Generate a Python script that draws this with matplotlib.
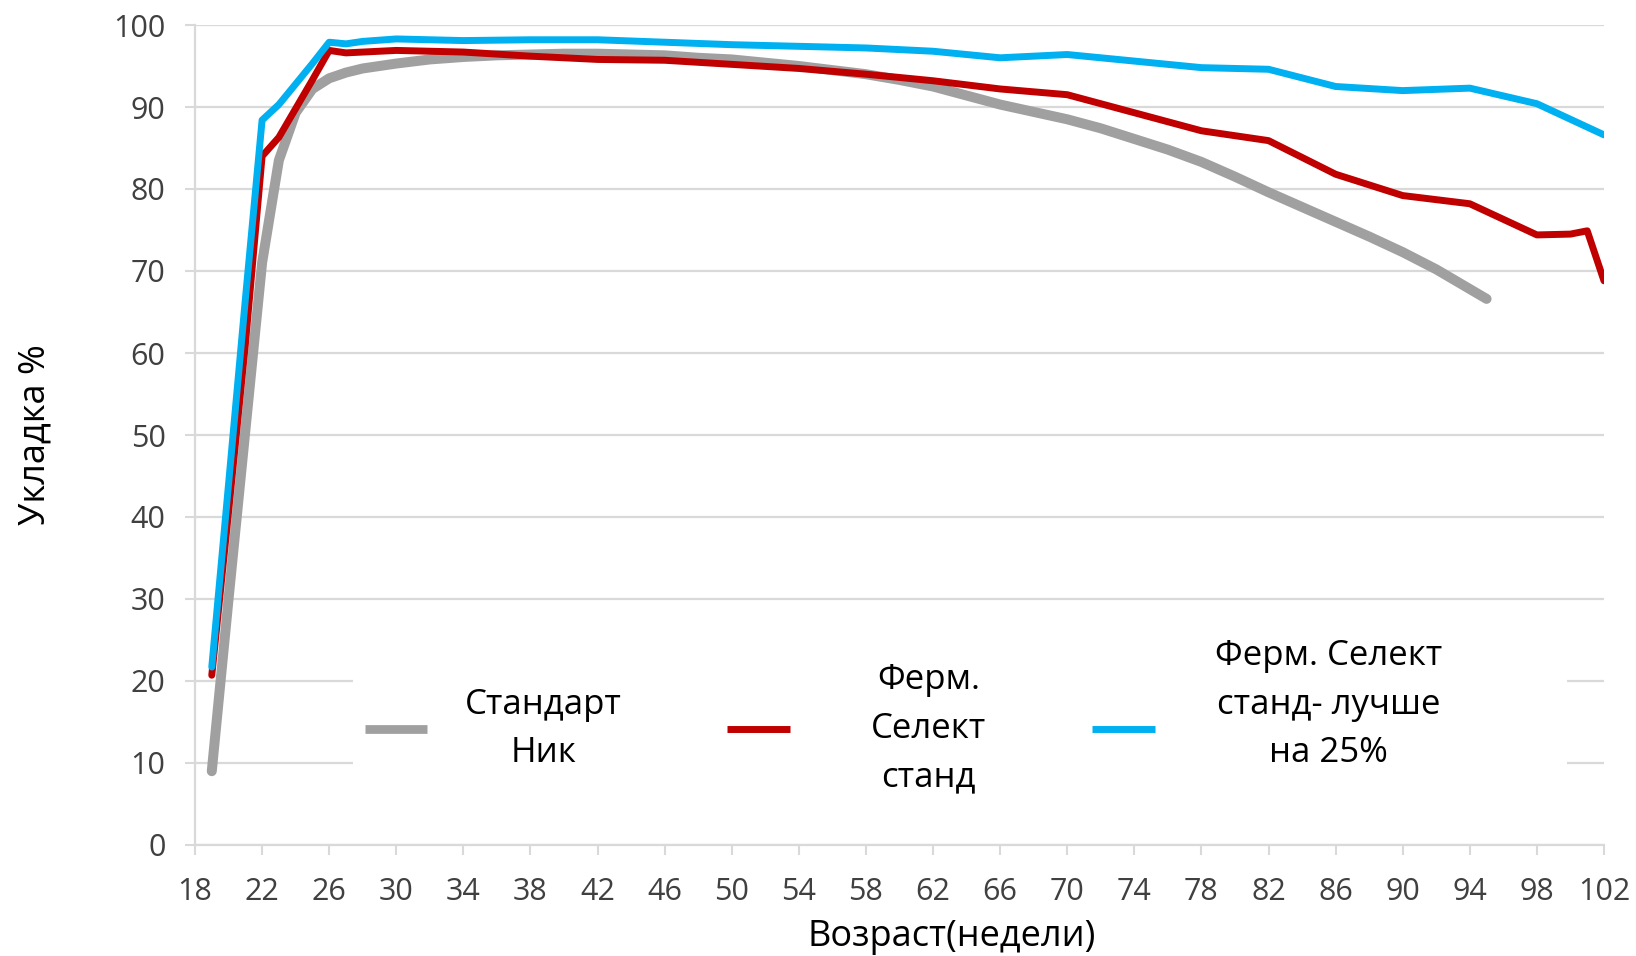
import matplotlib
matplotlib.use("Agg")
import matplotlib.pyplot as plt
from matplotlib.lines import Line2D
from matplotlib.offsetbox import DrawingArea

# ---- data ----
weeks_std = [19, 20, 21, 22, 23, 24, 25, 26, 27, 28, 30, 32, 34, 36, 38, 40, 42, 44, 46, 48,
             50, 52, 54, 56, 58, 60, 62, 64, 66, 68, 70, 72, 74, 76, 78, 80, 82, 84, 86, 88,
             90, 92, 94, 95]
vals_std = [9.0, 30, 50.5, 71, 83.5, 89.3, 92.2, 93.5, 94.2, 94.7, 95.3, 95.8, 96.1, 96.3, 96.4,
            96.5, 96.5, 96.4, 96.3, 96.0, 95.8, 95.4, 95.0, 94.5, 94.0, 93.3, 92.5, 91.4, 90.3,
            89.4, 88.5, 87.4, 86.1, 84.8, 83.3, 81.5, 79.6, 77.8, 76.0, 74.2, 72.3, 70.2, 67.8,
            66.6]

weeks_farm = [19, 20, 21, 22, 23, 24, 25, 26, 27, 28, 30, 34, 38, 42, 46, 50, 54, 58, 62, 66,
              70, 74, 78, 82, 86, 90, 94, 96, 98, 100, 101, 102]
vals_farm = [20.7, 40.6, 61, 84, 86.3, 89.8, 93.3, 96.9, 96.6, 96.7, 96.9, 96.7, 96.2, 95.8,
             95.7, 95.2, 94.7, 94.0, 93.2, 92.2, 91.5, 89.3, 87.1, 85.9, 81.8, 79.2, 78.2, 76.3,
             74.4, 74.5, 74.9, 68.8]

weeks_best = [19, 20, 21, 22, 23, 24, 25, 26, 27, 28, 30, 34, 38, 42, 46, 50, 54, 58, 62, 66,
              70, 74, 78, 82, 86, 90, 94, 98, 102]
vals_best = [21.7, 44, 66.5, 88.4, 90.3, 92.8, 95.3, 97.9, 97.7, 98.0, 98.3, 98.1, 98.2, 98.2,
             97.9, 97.6, 97.4, 97.2, 96.8, 96.0, 96.4, 95.6, 94.8, 94.6, 92.5, 92.0, 92.3, 90.4,
             86.6]

series_labels = ["Стандарт\nНик", "Ферм.\nСелект\nстанд", "Ферм. Селект\nстанд- лучше\nна 25%\n"]
x_ticks = list(range(18, 103, 4))
y_ticks = list(range(0, 101, 10))
x_title = "Возраст(недели)"
y_title = "Укладка %"

C_GRAY = "#A0A0A0"
C_RED = "#C00000"
C_BLUE = "#00B0F0"
C_GRID = "#D9D9D9"

plt.rcParams['font.family'] = ['Open Sans', 'DejaVu Sans']

fig = plt.figure(figsize=(16.36, 9.56), dpi=100)
ax = fig.add_axes([195 / 1636, 1 - 845 / 956, (1604 - 195) / 1636, (845 - 25) / 956])

ax.plot(weeks_std, vals_std, color=C_GRAY, lw=7.2, solid_capstyle='round',
        solid_joinstyle='round', zorder=3)
ax.plot(weeks_farm, vals_farm, color=C_RED, lw=5.0, solid_capstyle='round',
        solid_joinstyle='round', zorder=4)
ax.plot(weeks_best, vals_best, color=C_BLUE, lw=5.0, solid_capstyle='round',
        solid_joinstyle='round', zorder=5)

ax.set_xlim(18, 102)
ax.set_ylim(0, 100)
ax.set_xticks(x_ticks)
ax.set_yticks(y_ticks)
ax.tick_params(axis='both', labelsize=22, labelcolor='#404040', color=C_GRID,
               length=7.2, width=1.5, direction='out')
ax.tick_params(axis='x', pad=16)
ax.tick_params(axis='y', pad=14)

ax.set_axisbelow(True)
ax.yaxis.grid(True, color=C_GRID, lw=1.6)
for s in ['top', 'right']:
    ax.spines[s].set_visible(False)
for s in ['left', 'bottom']:
    ax.spines[s].set_color(C_GRID)
    ax.spines[s].set_linewidth(1.6)
    ax.spines[s].set_zorder(6)

ax.set_ylabel(y_title, fontsize=26, color='black', va='center')
ax.yaxis.set_label_coords(-0.1135, 0.5)
ax.set_xlabel(x_title, fontsize=26, color='black', va='center')
ax.xaxis.set_label_coords(0.537, -0.112)

handles = [Line2D([], [], color=C_GRAY, lw=6.3, solid_capstyle='butt'),
           Line2D([], [], color=C_RED, lw=5, solid_capstyle='butt'),
           Line2D([], [], color=C_BLUE, lw=5, solid_capstyle='butt')]
leg = ax.legend(handles, series_labels, loc='center left', bbox_to_anchor=(0.0995, 0.1415),
                ncol=3, fontsize=25, frameon=True, framealpha=1, facecolor='white',
                edgecolor='white', handlelength=1.8, handletextpad=1.1,
                columnspacing=3.05, borderpad=0.35)
leg.get_frame().set_linewidth(0)
for t in leg.get_texts():
    t.set_multialignment('center')
    t.set_linespacing(1.56)

# per-entry spacing between handle and text (points), vertical centring
text_pads = [27, 58.5, 43.5]
try:
    box = leg._legend_handle_box
    box.align = 'center'
    rows = [row for col in box.get_children() for row in col.get_children()]
    for row, p in zip(rows, text_pads):
        row.align = 'center'
        row.sep = p
    # blank space at the right end of the legend box
    rows[-1]._children.append(DrawingArea(37, 1))
except Exception:
    pass

fig.savefig("out.png", dpi=100, facecolor='white')
